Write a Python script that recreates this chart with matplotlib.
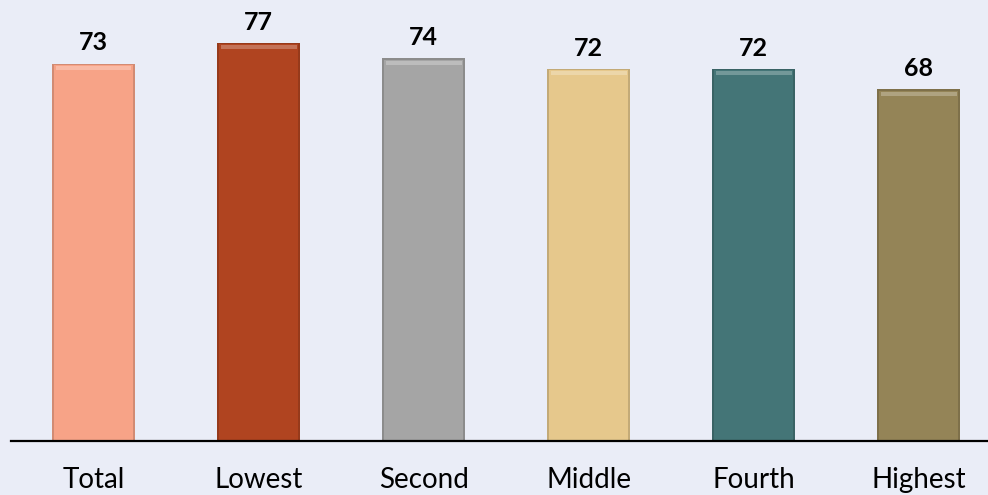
import numpy as np
import matplotlib.pyplot as plt
from matplotlib.colors import to_rgb

categories = ["Total", "Lowest", "Second", "Middle", "Fourth", "Highest"]
values = [73, 77, 74, 72, 72, 68]
colors = ["#F7A387", "#B04420", "#A5A5A5", "#E6C88C", "#447577", "#948457"]

bg = "#EAEDF7"


def shade(c, f):
    r = np.array(to_rgb(c))
    if f < 1:
        return tuple(r * f)
    return tuple(r + (1 - r) * (f - 1))


fig = plt.figure(figsize=(9.88, 4.95), dpi=100, facecolor=bg)
ax = fig.add_axes([11 / 988, 54 / 495, 977 / 988, 441 / 495])
ax.set_facecolor(bg)

x = np.arange(len(categories))
width = 0.5

for xi, v, c in zip(x, values, colors):
    # soft bevel: slightly darker outer body, main colour inside
    ax.bar(xi, v, width=width, color=shade(c, 0.85), zorder=2)
    ax.bar(xi, v - 0.3, width=width - 0.025, color=c, zorder=3)
    # light strip near the top
    ax.bar(xi, 0.7, bottom=v - 1.2, width=width - 0.04, color=shade(c, 1.25), zorder=4)
    ax.annotate(str(v), (xi, v), xytext=(0, 9.5), textcoords="offset points",
                ha="center", va="baseline", fontsize=18, fontweight="bold",
                family="Lato", color="black")

ax.set_xlim(-0.5, 5.42)
ax.set_ylim(0, 85.3)
ax.set_yticks([])
ax.set_xticks(x)
ax.set_xticklabels(categories, fontsize=20, family="Lato")
ax.tick_params(axis="x", length=0, pad=18.5)
for s in ["top", "right", "left"]:
    ax.spines[s].set_visible(False)
ax.spines["bottom"].set_linewidth(1.6)
ax.spines["bottom"].set_zorder(5)

fig.savefig("out.png", dpi=100, facecolor=bg)
